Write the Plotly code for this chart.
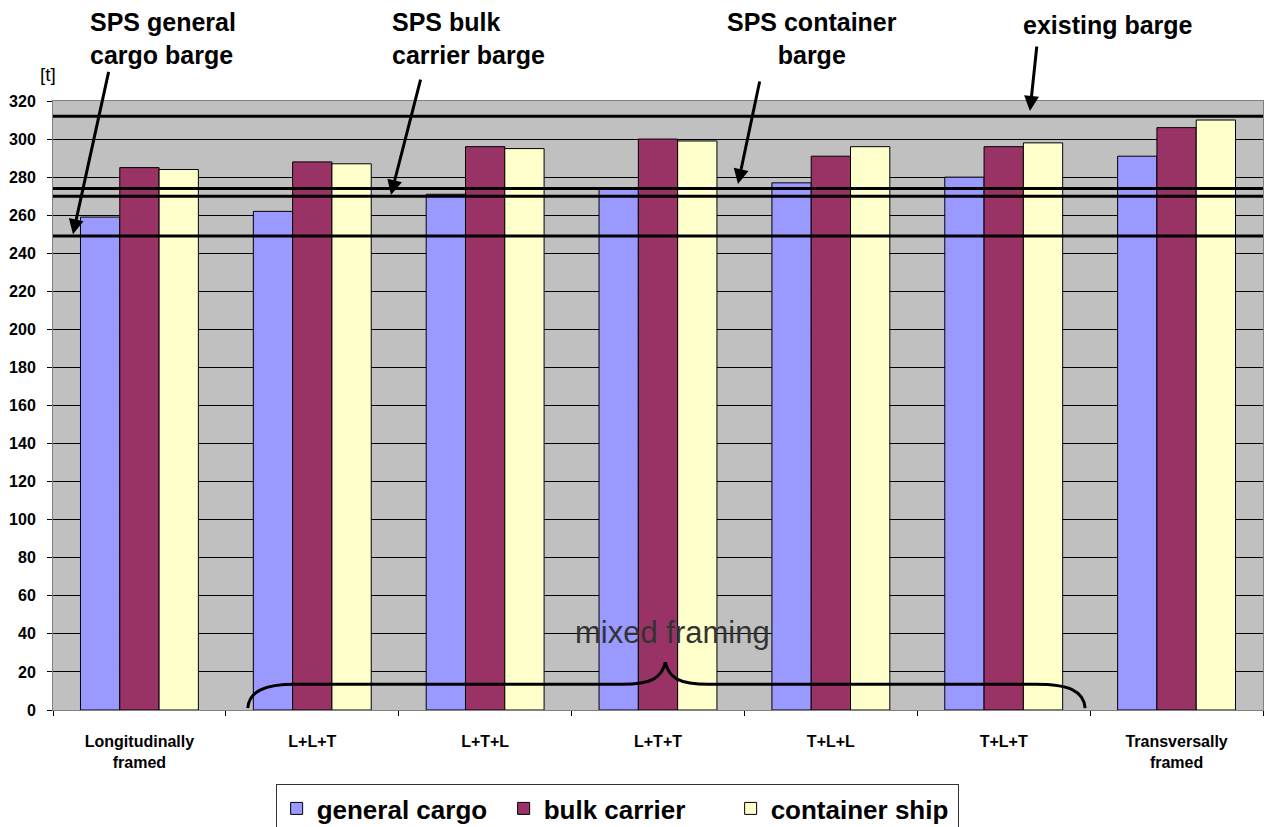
import plotly.graph_objects as go

# ---- data ----
categories = ["Longitudinally<br>framed", "L+L+T", "L+T+L", "L+T+T", "T+L+L", "T+L+T", "Transversally<br>framed"]
general_cargo = [259, 262, 271, 274, 277, 280, 291]
bulk_carrier = [285, 288, 296, 300, 291, 296, 306]
container_ship = [284, 287, 295, 299, 296, 298, 310]
series_names = ["general cargo", "bulk carrier", "container ship"]
series_colors = ["#9999FF", "#993366", "#FFFFCC"]

# reference weight lines [t]
ref_line_names = ["existing barge", "SPS container barge", "SPS bulk carrier barge", "SPS general cargo barge"]
ref_line_values = [312, 274, 270, 249]

y_ticks = list(range(0, 321, 20))

FONT = "Liberation Sans, Arial, sans-serif"

fig = go.Figure()
for name, vals, col in zip(series_names, [general_cargo, bulk_carrier, container_ship], series_colors):
    fig.add_trace(go.Bar(
        x=categories, y=vals, name=name,
        marker=dict(color=col, line=dict(color="#000000", width=1)),
    ))

# horizontal reference lines
for v in ref_line_values:
    fig.add_shape(type="line", xref="paper", yref="y", x0=0, x1=1, y0=v, y1=v,
                  line=dict(color="#000000", width=3), layer="above")

# curly brace for "mixed framing"
brace = ("M 0.161,1 C 0.162,10 0.175,13.5 0.200,13.5 L 0.470,13.5 "
         "C 0.495,13.5 0.503,17 0.506,25 C 0.509,17 0.517,13.5 0.542,13.5 "
         "L 0.812,13.5 C 0.840,13.5 0.852,10 0.853,1")
fig.add_shape(type="path", xref="paper", yref="y", path=brace,
              line=dict(color="#000000", width=3), layer="above")

annotations = [
    dict(text="mixed framing", xref="paper", yref="y", x=0.5116, y=40.5,
         xanchor="center", yanchor="middle", showarrow=False,
         font=dict(family=FONT, size=31, color="#333333")),
    dict(text="[t]", xref="paper", yref="paper", x=-0.004, y=1.043,
         xanchor="center", yanchor="middle", showarrow=False,
         font=dict(family=FONT, size=19, color="#000000")),
    dict(text="<b>SPS general<br>cargo barge</b>", xref="paper", yref="paper", x=0.0289, y=1.103,
         xanchor="left", yanchor="middle", align="left", showarrow=False,
         font=dict(family=FONT, size=25, color="#000000")),
    dict(text="<b>SPS bulk<br>carrier barge</b>", xref="paper", yref="paper", x=0.2785, y=1.103,
         xanchor="left", yanchor="middle", align="left", showarrow=False,
         font=dict(family=FONT, size=25, color="#000000")),
    dict(text="<b>SPS container<br>barge</b>", xref="paper", yref="paper", x=0.6273, y=1.103,
         xanchor="center", yanchor="middle", align="center", showarrow=False,
         font=dict(family=FONT, size=25, color="#000000")),
    dict(text="<b>existing barge</b>", xref="paper", yref="paper", x=0.8719, y=1.125,
         xanchor="center", yanchor="middle", showarrow=False,
         font=dict(family=FONT, size=25, color="#000000")),
]
# arrows: (head x paper, head y paper, ax px, ay px)
arrows = [(0.0165, 0.781, 36, -164), (0.2793, 0.8456, 30, -117),
          (0.5661, 0.8637, 22, -104), (0.8074, 0.9836, 7, -66)]
for hx, hy, ax, ay in arrows:
    annotations.append(dict(text="", xref="paper", yref="paper", x=hx, y=hy, ax=ax, ay=ay,
                            showarrow=True, arrowhead=2, arrowsize=1, arrowwidth=3,
                            arrowcolor="#000000"))

fig.update_layout(
    width=1265, height=827,
    margin=dict(l=53, r=2, t=101, b=117, autoexpand=False),
    paper_bgcolor="#FFFFFF", plot_bgcolor="#C0C0C0",
    barmode="group", bargap=0.318, bargroupgap=0,
    showlegend=True,
    legend=dict(orientation="h", x=0.184, y=-0.1215, xanchor="left", yanchor="top",
                bordercolor="#333333", borderwidth=1, bgcolor="#FFFFFF",
                entrywidth=182, entrywidthmode="pixels",
                font=dict(family=FONT, size=26, color="#000000", weight="bold"),
                traceorder="normal"),
    annotations=annotations,
    xaxis=dict(type="category", tickson="boundaries", ticks="outside", ticklen=5,
               tickcolor="#000000", showline=True, linecolor="#808080", linewidth=1,
               mirror=True, showgrid=False, ticklabelstandoff=17,
               tickfont=dict(family=FONT, size=16, color="#000000", weight="bold")),
    yaxis=dict(range=[0, 320], tickvals=y_ticks, ticks="outside", ticklen=5,
               tickcolor="#000000", showline=True, linecolor="#808080", linewidth=1,
               mirror=True, showgrid=True, gridcolor="#000000", gridwidth=1,
               zeroline=False, ticklabelstandoff=8,
               tickfont=dict(family=FONT, size=16, color="#000000", weight="bold")),
)

fig.write_html("out.html", config={"displayModeBar": False},
               post_script="document.body.style.margin='0';document.body.style.overflow='hidden';")
